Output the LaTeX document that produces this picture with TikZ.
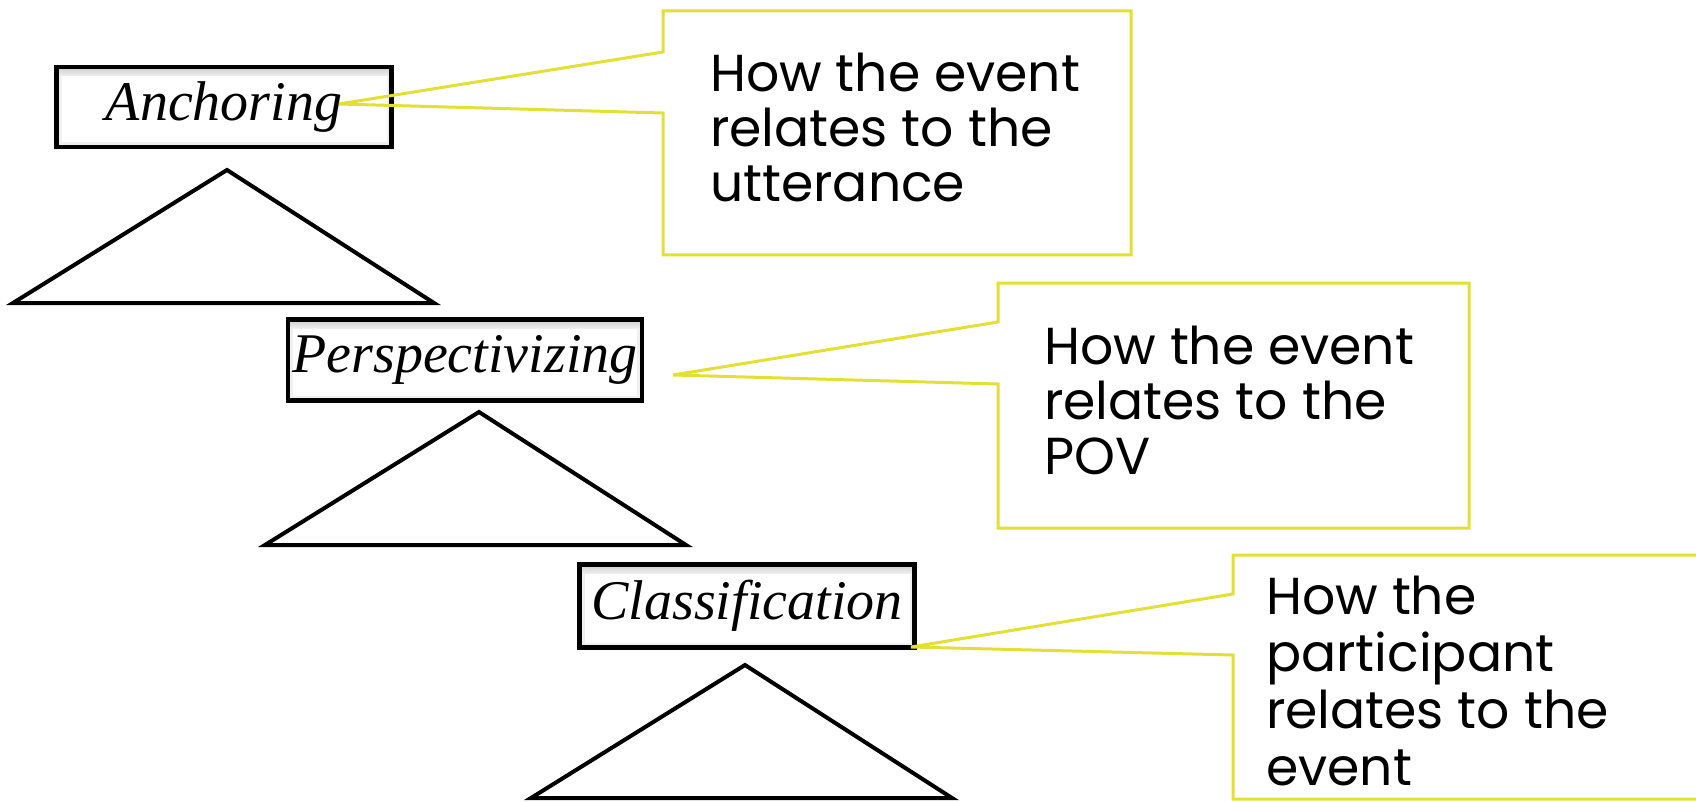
\documentclass[tikz,border=0pt]{standalone}
\usepackage{fontspec}
\setmainfont{Liberation Serif}
\newfontfamily\notefont{Poppins}
\definecolor{noteyellow}{RGB}{228,223,52}

\begin{document}
\begin{tikzpicture}[x=1pt, y=-1pt,
    level/.style={draw, line width=4.5pt, fill=white, inner sep=0pt,
        font=\fontsize{56}{60}\selectfont\itshape,
        path picture={
            \draw[gray!12, line width=10pt] (path picture bounding box.south west) rectangle (path picture bounding box.north east);
            \shade[top color=gray!40, bottom color=gray!12]
                (path picture bounding box.north west) rectangle ([yshift=-9pt]path picture bounding box.north east);}},
    tri/.style={line width=4pt, line join=miter},
    callout/.style={draw=noteyellow, line width=3pt, line join=miter},
    note/.style={anchor=base west, align=left, inner sep=0pt,
        font=\notefont\fontsize{52}{55}\selectfont}]
    % Frame
    \clip (0,0) rectangle (1696,802);

    % Levels
    \node[level, minimum width=335pt, minimum height=80pt] (anch) at (224,107) {Anchoring};
    \node[level, minimum width=354pt, minimum height=81pt] (persp) at (465,360) {Perspectivizing};
    \node[level, minimum width=335pt, minimum height=83pt] (class) at (747,606) {Classification};

    % Triangles under the levels
    \foreach \x/\y in {227/170, 479/412, 745/665}
        \draw[tri] (\x,\y) -- ++(207,133) -- ++(-421,0) -- cycle;

    % Tips of the callouts
    \coordinate (tipA) at (339,104);
    \coordinate (tipP) at (673,375);
    \coordinate (tipC) at (911,647);

    % Callouts
    \draw[callout] (663,52) -- (663,11) -- (1131,11) -- (1131,255) -- (663,255) -- (663,113) -- (tipA) -- cycle;
    \draw[callout] (998,322) -- (998,283) -- (1469,283) -- (1469,528) -- (998,528) -- (998,384) -- (tipP) -- cycle;
    \draw[callout] (1233,594) -- (1233,555) -- (1710,555) -- (1710,799) -- (1233,799) -- (1233,655) -- (tipC) -- cycle;

    % Callout texts (anchored at the last line)
    \node[note] (noteA) at (710,202) {How the event\\relates to the\\utterance};
    \node[note] (noteP) at (1044,474) {How the event\\relates to the\\POV};
    \node[note, font=\notefont\fontsize{52}{57}\selectfont] (noteC) at (1266,785) {How the\\participant\\relates to the\\event};
\end{tikzpicture}
\end{document}
